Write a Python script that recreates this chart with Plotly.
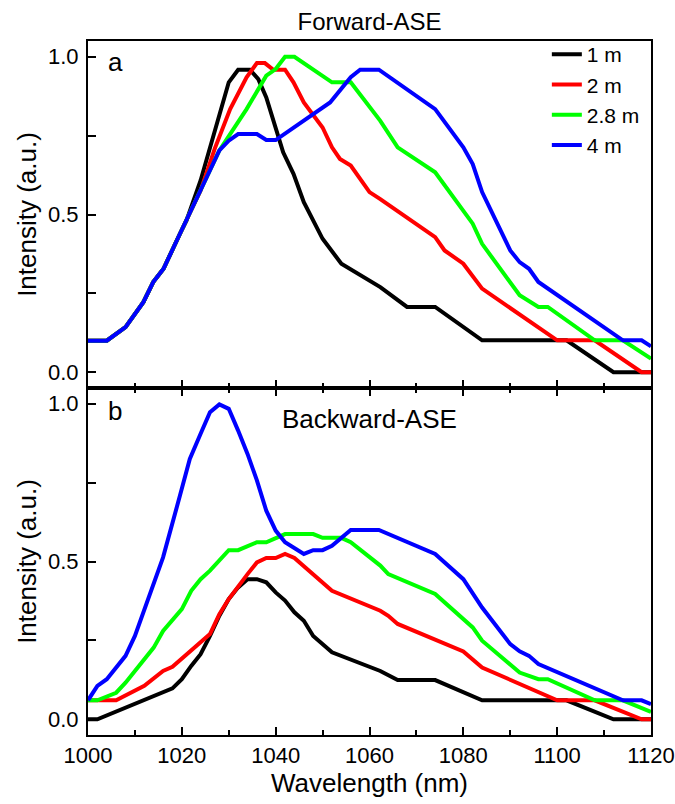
import plotly.graph_objects as go
from plotly.subplots import make_subplots

# ---------------- data ----------------
series_names = ["1 m", "2 m", "2.8 m", "4 m"]
series_colors = ["#000000", "#FF0000", "#00FF00", "#0000FF"]

# Forward-ASE (panel a)
fwd_1m_wl = [1000, 1004, 1008, 1011.8, 1013.9, 1016.1, 1019.6, 1021, 1024, 1027, 1030, 1032, 1034.5,
             1036.3, 1038, 1041.6, 1043.8, 1046, 1050, 1054, 1062.3, 1068, 1074, 1084, 1102, 1112, 1120]
fwd_1m_int = [0.10, 0.10, 0.143, 0.222, 0.286, 0.328, 0.439, 0.481, 0.608, 0.766, 0.919, 0.959, 0.959,
              0.929, 0.871, 0.697, 0.629, 0.539, 0.423, 0.344, 0.270, 0.207, 0.207, 0.101, 0.101, 0.0, 0.0]

fwd_2m_wl = [1000, 1004, 1008, 1011.8, 1013.9, 1016.1, 1019.6, 1024, 1027, 1030.3, 1033.8, 1036, 1037.7,
             1039.5, 1042, 1043.8, 1046, 1050, 1052, 1053.7, 1056, 1060, 1062.3, 1074, 1076, 1080, 1084,
             1100, 1108, 1118, 1120]
fwd_2m_int = [0.10, 0.10, 0.143, 0.222, 0.286, 0.328, 0.439, 0.576, 0.708, 0.834, 0.935, 0.980, 0.980,
              0.959, 0.959, 0.919, 0.855, 0.776, 0.713, 0.676, 0.655, 0.571, 0.549, 0.428, 0.386, 0.344, 0.265,
              0.101, 0.101, 0.0, 0.0]

fwd_28m_wl = [1000, 1004, 1008, 1011.8, 1013.9, 1016.1, 1019.6, 1024, 1028, 1033.8, 1038, 1040, 1042,
              1044, 1052, 1056, 1062.3, 1066, 1074, 1082, 1084, 1092, 1096, 1098, 1108, 1114, 1120]
fwd_28m_int = [0.10, 0.10, 0.143, 0.222, 0.286, 0.328, 0.439, 0.576, 0.703, 0.834, 0.940, 0.961, 1.0,
               1.0, 0.919, 0.919, 0.797, 0.713, 0.634, 0.471, 0.407, 0.244, 0.207, 0.207, 0.101, 0.101, 0.043]

fwd_4m_wl = [1000, 1004, 1008, 1011.8, 1013.9, 1016.1, 1019.6, 1024, 1028, 1030, 1032, 1036, 1038, 1040,
             1051.6, 1056, 1058, 1062, 1074, 1080, 1082, 1084, 1090, 1092, 1094, 1096, 1114, 1118, 1120]
fwd_4m_int = [0.10, 0.10, 0.143, 0.222, 0.286, 0.328, 0.439, 0.576, 0.703, 0.734, 0.755, 0.755, 0.736, 0.736,
              0.855, 0.935, 0.959, 0.959, 0.834, 0.713, 0.660, 0.571, 0.386, 0.349, 0.328, 0.286, 0.101, 0.101,
              0.082]

# Backward-ASE (panel b)
bwd_1m_wl = [1000, 1002, 1018, 1020, 1022, 1024, 1026, 1028, 1030, 1032, 1034, 1036, 1038, 1040, 1042,
             1044, 1046, 1048, 1052, 1062.3, 1066, 1074, 1084, 1102, 1112, 1120]
bwd_1m_int = [0.0, 0.0, 0.098, 0.127, 0.169, 0.206, 0.264, 0.328, 0.381, 0.418, 0.444, 0.444, 0.434, 0.402,
              0.376, 0.339, 0.312, 0.264, 0.212, 0.153, 0.124, 0.124, 0.060, 0.060, 0.0, 0.0]

bwd_2m_wl = [1000, 1006, 1012, 1016, 1018, 1026, 1028, 1030, 1034, 1036, 1038, 1040, 1042, 1044, 1052,
             1062.3, 1064, 1066, 1080, 1084, 1100, 1108, 1118, 1120]
bwd_2m_int = [0.060, 0.060, 0.106, 0.153, 0.166, 0.270, 0.333, 0.381, 0.460, 0.497, 0.511, 0.511, 0.524,
              0.511, 0.407, 0.344, 0.328, 0.302, 0.215, 0.164, 0.060, 0.060, 0.0, 0.0]

bwd_28m_wl = [1000, 1002, 1006, 1008, 1014, 1016, 1020, 1022, 1024, 1026, 1030, 1032, 1036, 1038, 1042,
              1048, 1050, 1054, 1056, 1062.3, 1064, 1074, 1082, 1084, 1092, 1096, 1098, 1108, 1114, 1120]
bwd_28m_int = [0.060, 0.060, 0.084, 0.116, 0.227, 0.280, 0.349, 0.407, 0.444, 0.471, 0.536, 0.536, 0.561,
               0.561, 0.587, 0.587, 0.575, 0.575, 0.561, 0.487, 0.460, 0.397, 0.291, 0.249, 0.148, 0.127,
               0.127, 0.060, 0.060, 0.023]

bwd_4m_wl = [1000, 1002, 1004, 1008, 1010, 1012, 1016, 1019.6, 1021.7, 1024, 1026, 1028, 1030, 1032, 1034,
             1036, 1038, 1040, 1042, 1046, 1048, 1050, 1052, 1056, 1062, 1074, 1080, 1084, 1090, 1092, 1094,
             1096, 1114, 1118, 1120]
bwd_4m_int = [0.060, 0.106, 0.127, 0.201, 0.264, 0.344, 0.513, 0.709, 0.825, 0.905, 0.973, 0.998, 0.984,
              0.915, 0.841, 0.757, 0.661, 0.598, 0.561, 0.524, 0.536, 0.536, 0.550, 0.600, 0.600, 0.524, 0.444,
              0.354, 0.238, 0.215, 0.201, 0.175, 0.060, 0.060, 0.048]

x_tick_vals = [1000, 1020, 1040, 1060, 1080, 1100, 1120]
y_tick_vals = [0.0, 0.5, 1.0]

forward_wl = [fwd_1m_wl, fwd_2m_wl, fwd_28m_wl, fwd_4m_wl]
forward_int = [fwd_1m_int, fwd_2m_int, fwd_28m_int, fwd_4m_int]
backward_wl = [bwd_1m_wl, bwd_2m_wl, bwd_28m_wl, bwd_4m_wl]
backward_int = [bwd_1m_int, bwd_2m_int, bwd_28m_int, bwd_4m_int]

# ---------------- figure ----------------
FONT = "Liberation Sans, Arial, sans-serif"

fig = make_subplots(rows=2, cols=1, shared_xaxes=True, vertical_spacing=0.0)

for name, color, wl, inten in zip(series_names, series_colors, forward_wl, forward_int):
    fig.add_trace(go.Scatter(x=wl, y=inten, mode="lines", name=name,
                             line=dict(color=color, width=4), showlegend=True), row=1, col=1)
for name, color, wl, inten in zip(series_names, series_colors, backward_wl, backward_int):
    fig.add_trace(go.Scatter(x=wl, y=inten, mode="lines", name=name,
                             line=dict(color=color, width=4), showlegend=False), row=2, col=1)

common_x = dict(range=[1000, 1120], tickvals=x_tick_vals, ticks="inside", ticklen=8, tickwidth=2,
                tickcolor="black", showline=True, linewidth=2, linecolor="black", showgrid=False,
                zeroline=False, automargin=False,
                minor=dict(dtick=10, tick0=1000, ticks="inside", ticklen=5, tickwidth=2, tickcolor="black",
                           showgrid=False),
                tickfont=dict(family=FONT, size=22, color="black"))
common_y = dict(range=[-0.05, 1.05], tickvals=y_tick_vals, tickformat=".1f", ticks="inside", ticklen=8,
                tickwidth=2, tickcolor="black", showline=True, linewidth=2, linecolor="black",
                showgrid=False, zeroline=False, mirror=True, automargin=False,
                minor=dict(dtick=0.25, tick0=0, ticks="inside", ticklen=8, tickwidth=2, tickcolor="black",
                           showgrid=False),
                tickfont=dict(family=FONT, size=22, color="black"),
                title=dict(text="Intensity (a.u.)", font=dict(family=FONT, size=26, color="black"),
                           standoff=4),
                ticklabelstandoff=3)

fig.update_xaxes(**common_x, mirror=True, showticklabels=False, row=1, col=1)
fig.update_xaxes(**common_x, mirror="ticks", showticklabels=True, row=2, col=1,
                 title=dict(text="Wavelength (nm)", font=dict(family=FONT, size=26, color="black"),
                            standoff=2))
fig.update_yaxes(**common_y, row=1, col=1)
fig.update_yaxes(**common_y, row=2, col=1)

fig.update_layout(
    width=675, height=804,
    margin=dict(l=88, r=24, t=41, b=69, autoexpand=False),
    paper_bgcolor="white", plot_bgcolor="white",
    font=dict(family=FONT, color="black"),
    title=dict(text="Forward-ASE", x=0.5, xref="paper", xanchor="center",
               y=1 - 22 / 804, yref="container", yanchor="middle",
               font=dict(family=FONT, size=24, color="black")),
    legend=dict(x=0.815, y=1.01, xanchor="left", yanchor="top", bgcolor="rgba(0,0,0,0)",
                font=dict(family=FONT, size=21, color="black"), tracegroupgap=0,
                itemwidth=30),
    annotations=[
        dict(text="a", xref="x domain", yref="y domain", x=0.048, y=0.94, xanchor="center",
             yanchor="middle", showarrow=False, font=dict(family=FONT, size=26, color="black")),
        dict(text="b", xref="x2 domain", yref="y2 domain", x=0.048, y=0.935, xanchor="center",
             yanchor="middle", showarrow=False, font=dict(family=FONT, size=26, color="black")),
        dict(text="Backward-ASE", xref="x2 domain", yref="y2 domain", x=0.5, y=0.91, xanchor="center",
             yanchor="middle", showarrow=False, font=dict(family=FONT, size=26, color="black")),
    ],
)

fig.write_html("out.html")
